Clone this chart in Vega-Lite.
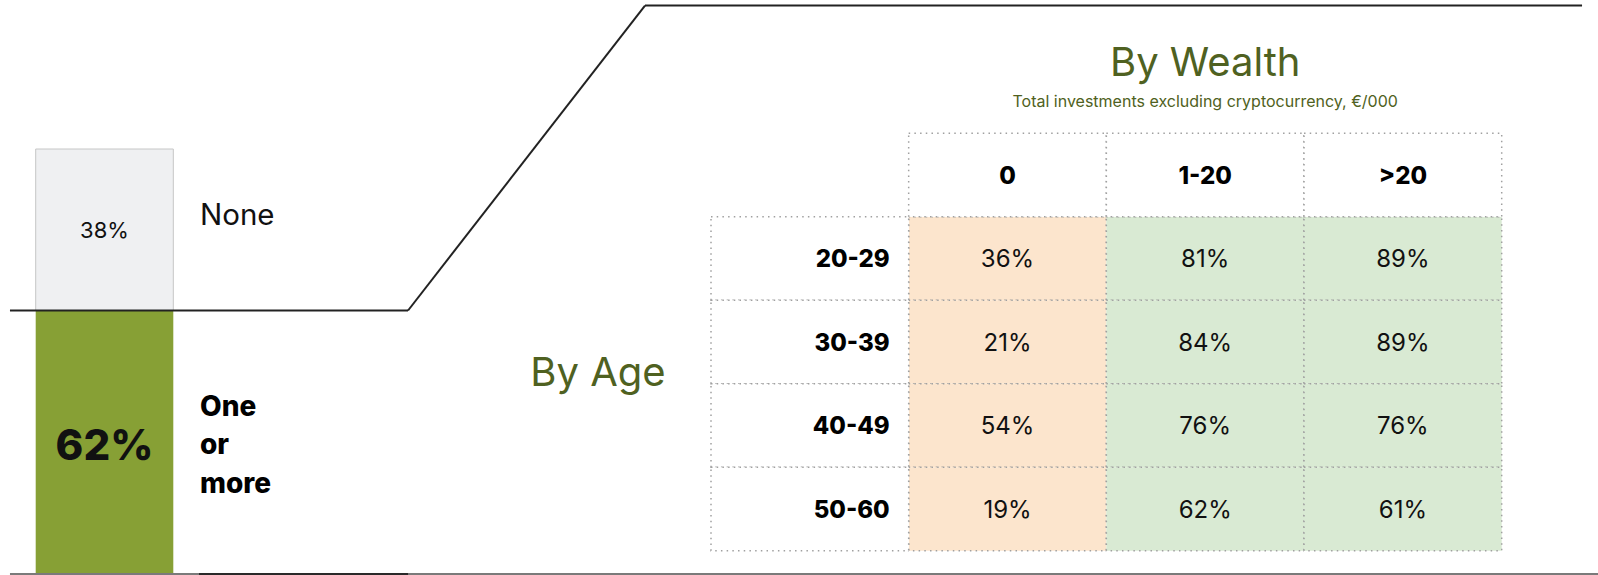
{
  "$schema": "https://vega.github.io/schema/vega-lite/v6.json",
  "width": 1598,
  "height": 575,
  "autosize": {"type": "none"},
  "padding": 0,
  "background": "white",
  "config": {
    "view": {"stroke": null},
    "font": "Inter",
    "axis": {"disable": true},
    "legend": {"disable": true}
  },
  "datasets": {
    "overall": [
      {"answer": "None", "share": 0.38},
      {"answer": "One or more", "share": 0.62}
    ],
    "grid": [
      {"age": "20-29", "wealth": "0", "share": 0.36},
      {"age": "20-29", "wealth": "1-20", "share": 0.81},
      {"age": "20-29", "wealth": ">20", "share": 0.89},
      {"age": "30-39", "wealth": "0", "share": 0.21},
      {"age": "30-39", "wealth": "1-20", "share": 0.84},
      {"age": "30-39", "wealth": ">20", "share": 0.89},
      {"age": "40-49", "wealth": "0", "share": 0.54},
      {"age": "40-49", "wealth": "1-20", "share": 0.76},
      {"age": "40-49", "wealth": ">20", "share": 0.76},
      {"age": "50-60", "wealth": "0", "share": 0.19},
      {"age": "50-60", "wealth": "1-20", "share": 0.62},
      {"age": "50-60", "wealth": ">20", "share": 0.61}
    ]
  },
  "layer": [
    {
      "data": {"name": "overall"},
      "transform": [
        {"stack": "share", "groupby": [], "sort": [{"field": "share", "order": "descending"}], "as": ["lo", "hi"]}
      ],
      "layer": [
        {
          "mark": {"type": "rect"},
          "encoding": {
            "x": {"datum": 0, "type": "quantitative", "scale": {"domain": [0, 1], "range": [35.7, 173.3], "nice": false, "zero": false}},
            "x2": {"datum": 1},
            "y": {"field": "lo", "type": "quantitative", "scale": {"domain": [0, 1], "range": [574, 149], "nice": false, "zero": false}},
            "y2": {"field": "hi"},
            "fill": {"field": "answer", "type": "nominal", "scale": {"domain": ["None", "One or more"], "range": ["#eff0f2", "#87a035"]}},
            "stroke": {"condition": {"test": "datum.answer === 'None'", "value": "#c6c6c6"}, "value": null}
          }
        },
        {
          "transform": [{"filter": "datum.answer === 'One or more'"}],
          "mark": {"type": "rule", "color": "#7a7a7a", "strokeWidth": 2},
          "encoding": {
            "x": {"datum": -0.187, "type": "quantitative", "scale": {"domain": [0, 1], "range": [35.7, 173.3], "nice": false, "zero": false}},
            "x2": {"datum": 11.4},
            "y": {"datum": 0, "type": "quantitative", "scale": {"domain": [0, 1], "range": [574, 149], "nice": false, "zero": false}}
          }
        },
        {
          "transform": [{"filter": "datum.answer === 'One or more'"}],
          "mark": {"type": "rule", "color": "#2a2a2a", "strokeWidth": 2},
          "encoding": {
            "x": {"datum": 1.187, "type": "quantitative", "scale": {"domain": [0, 1], "range": [35.7, 173.3], "nice": false, "zero": false}},
            "x2": {"datum": 2.706},
            "y": {"datum": 0, "type": "quantitative", "scale": {"domain": [0, 1], "range": [574, 149], "nice": false, "zero": false}}
          }
        },
        {
          "transform": [{"filter": "datum.answer === 'One or more'"}],
          "mark": {"type": "rule", "color": "#222222", "strokeWidth": 2},
          "encoding": {
            "x": {"datum": -0.187, "type": "quantitative", "scale": {"domain": [0, 1], "range": [35.7, 173.3], "nice": false, "zero": false}},
            "x2": {"datum": 2.706},
            "y": {"field": "hi", "type": "quantitative", "scale": {"domain": [0, 1], "range": [574, 149], "nice": false, "zero": false}}
          }
        },
        {
          "transform": [{"filter": "datum.answer === 'One or more'"}],
          "mark": {"type": "rule", "color": "#222222", "strokeWidth": 2},
          "encoding": {
            "x": {"datum": 2.706, "type": "quantitative", "scale": {"domain": [0, 1], "range": [35.7, 173.3], "nice": false, "zero": false}},
            "x2": {"datum": 4.428},
            "y": {"field": "hi", "type": "quantitative", "scale": {"domain": [0, 1], "range": [574, 149], "nice": false, "zero": false}},
            "y2": {"datum": 1.3376}
          }
        },
        {
          "transform": [{"filter": "datum.answer === 'One or more'"}],
          "mark": {"type": "rule", "color": "#222222", "strokeWidth": 2},
          "encoding": {
            "x": {"datum": 4.428, "type": "quantitative", "scale": {"domain": [0, 1], "range": [35.7, 173.3], "nice": false, "zero": false}},
            "x2": {"datum": 11.238},
            "y": {"datum": 1.3376, "type": "quantitative", "scale": {"domain": [0, 1], "range": [574, 149], "nice": false, "zero": false}}
          }
        },
        {
          "transform": [{"filter": "datum.answer === 'None'"}],
          "mark": {"type": "text", "fontSize": 22, "color": "#111111", "align": "center", "baseline": "alphabetic", "dy": 89},
          "encoding": {
            "x": {"datum": 0.5, "type": "quantitative", "scale": {"domain": [0, 1], "range": [35.7, 173.3], "nice": false, "zero": false}},
            "y": {"field": "hi", "type": "quantitative", "scale": {"domain": [0, 1], "range": [574, 149], "nice": false, "zero": false}},
            "text": {"field": "share", "type": "quantitative", "format": ".0%"}
          }
        },
        {
          "transform": [{"filter": "datum.answer === 'None'"}],
          "mark": {"type": "text", "fontSize": 29.5, "color": "#111111", "align": "left", "baseline": "alphabetic", "dx": 26.7, "dy": 76},
          "encoding": {
            "x": {"datum": 1, "type": "quantitative", "scale": {"domain": [0, 1], "range": [35.7, 173.3], "nice": false, "zero": false}},
            "y": {"field": "hi", "type": "quantitative", "scale": {"domain": [0, 1], "range": [574, 149], "nice": false, "zero": false}},
            "text": {"field": "answer", "type": "nominal"}
          }
        },
        {
          "transform": [{"filter": "datum.answer === 'One or more'"}],
          "mark": {"type": "text", "fontSize": 42, "fontWeight": 800, "color": "#111111", "align": "center", "baseline": "alphabetic", "dy": 149.5},
          "encoding": {
            "x": {"datum": 0.5, "type": "quantitative", "scale": {"domain": [0, 1], "range": [35.7, 173.3], "nice": false, "zero": false}},
            "y": {"field": "hi", "type": "quantitative", "scale": {"domain": [0, 1], "range": [574, 149], "nice": false, "zero": false}},
            "text": {"field": "share", "type": "quantitative", "format": ".0%"}
          }
        },
        {
          "transform": [{"filter": "datum.answer === 'One or more'"}],
          "mark": {"type": "text", "fontSize": 28, "fontWeight": 800, "color": "#000000", "align": "left", "baseline": "alphabetic", "dx": 26.7, "dy": 105.5, "lineBreak": " ", "lineHeight": 38.3},
          "encoding": {
            "x": {"datum": 1, "type": "quantitative", "scale": {"domain": [0, 1], "range": [35.7, 173.3], "nice": false, "zero": false}},
            "y": {"field": "hi", "type": "quantitative", "scale": {"domain": [0, 1], "range": [574, 149], "nice": false, "zero": false}},
            "text": {"field": "answer", "type": "nominal"}
          }
        }
      ]
    },
    {
      "layer": [
        {
          "data": {"name": "grid"},
          "mark": {"type": "rect", "stroke": "#a0a0a0", "strokeWidth": 1.5, "strokeDash": [1.5, 4.2]},
          "encoding": {
            "x": {"field": "wealth", "type": "nominal", "scale": {"type": "band", "domain": ["Age", "0", "1-20", ">20"], "range": [711, 1501.7], "paddingInner": 0, "paddingOuter": 0}},
            "y": {"field": "age", "type": "nominal", "scale": {"type": "band", "domain": ["Wealth", "20-29", "30-39", "40-49", "50-60"], "range": [133.3, 550.7], "paddingInner": 0, "paddingOuter": 0}},
            "fill": {"field": "wealth", "type": "nominal", "scale": {"domain": ["0", "1-20", ">20"], "range": ["#fce5cd", "#d9ead3", "#d9ead3"]}}
          }
        },
        {
          "data": {"name": "grid"},
          "transform": [{"aggregate": [{"op": "count", "as": "n"}], "groupby": ["wealth"]}],
          "mark": {"type": "rect", "fill": "white", "stroke": "#a0a0a0", "strokeWidth": 1.5, "strokeDash": [1.5, 4.2]},
          "encoding": {
            "x": {"field": "wealth", "type": "nominal", "scale": {"type": "band", "domain": ["Age", "0", "1-20", ">20"], "range": [711, 1501.7], "paddingInner": 0, "paddingOuter": 0}},
            "y": {"datum": "Wealth", "type": "nominal", "scale": {"type": "band", "domain": ["Wealth", "20-29", "30-39", "40-49", "50-60"], "range": [133.3, 550.7], "paddingInner": 0, "paddingOuter": 0}}
          }
        },
        {
          "data": {"name": "grid"},
          "transform": [{"aggregate": [{"op": "count", "as": "n"}], "groupby": ["age"]}],
          "mark": {"type": "rect", "fill": "white", "stroke": "#a0a0a0", "strokeWidth": 1.5, "strokeDash": [1.5, 4.2]},
          "encoding": {
            "x": {"datum": "Age", "type": "nominal", "scale": {"type": "band", "domain": ["Age", "0", "1-20", ">20"], "range": [711, 1501.7], "paddingInner": 0, "paddingOuter": 0}},
            "y": {"field": "age", "type": "nominal", "scale": {"type": "band", "domain": ["Wealth", "20-29", "30-39", "40-49", "50-60"], "range": [133.3, 550.7], "paddingInner": 0, "paddingOuter": 0}}
          }
        },
        {
          "data": {"name": "grid"},
          "mark": {"type": "text", "fontSize": 24, "color": "#111111", "align": "center", "baseline": "alphabetic", "dy": 8.7},
          "encoding": {
            "x": {"field": "wealth", "type": "nominal", "bandPosition": 0.5, "scale": {"type": "band", "domain": ["Age", "0", "1-20", ">20"], "range": [711, 1501.7], "paddingInner": 0, "paddingOuter": 0}},
            "y": {"field": "age", "type": "nominal", "bandPosition": 0.5, "scale": {"type": "band", "domain": ["Wealth", "20-29", "30-39", "40-49", "50-60"], "range": [133.3, 550.7], "paddingInner": 0, "paddingOuter": 0}},
            "text": {"field": "share", "type": "quantitative", "format": ".0%"}
          }
        },
        {
          "data": {"name": "grid"},
          "transform": [{"aggregate": [{"op": "count", "as": "n"}], "groupby": ["wealth"]}],
          "mark": {"type": "text", "fontSize": 24, "fontWeight": 800, "color": "#000000", "align": "center", "baseline": "alphabetic", "dy": 8.7},
          "encoding": {
            "x": {"field": "wealth", "type": "nominal", "bandPosition": 0.5, "scale": {"type": "band", "domain": ["Age", "0", "1-20", ">20"], "range": [711, 1501.7], "paddingInner": 0, "paddingOuter": 0}},
            "y": {"datum": "Wealth", "type": "nominal", "bandPosition": 0.5, "scale": {"type": "band", "domain": ["Wealth", "20-29", "30-39", "40-49", "50-60"], "range": [133.3, 550.7], "paddingInner": 0, "paddingOuter": 0}},
            "text": {"field": "wealth", "type": "nominal"}
          }
        },
        {
          "data": {"name": "grid"},
          "transform": [{"aggregate": [{"op": "count", "as": "n"}], "groupby": ["age"]}],
          "mark": {"type": "text", "fontSize": 24, "fontWeight": 800, "color": "#000000", "align": "right", "baseline": "alphabetic", "dx": -19, "dy": 8.7},
          "encoding": {
            "x": {"datum": "Age", "type": "nominal", "bandPosition": 1, "scale": {"type": "band", "domain": ["Age", "0", "1-20", ">20"], "range": [711, 1501.7], "paddingInner": 0, "paddingOuter": 0}},
            "y": {"field": "age", "type": "nominal", "bandPosition": 0.5, "scale": {"type": "band", "domain": ["Wealth", "20-29", "30-39", "40-49", "50-60"], "range": [133.3, 550.7], "paddingInner": 0, "paddingOuter": 0}},
            "text": {"field": "age", "type": "nominal"}
          }
        },
        {
          "data": {"values": [{"label": "By Wealth"}]},
          "mark": {"type": "text", "fontSize": 40, "color": "#4f6121", "align": "center", "baseline": "alphabetic", "dy": -57.3},
          "encoding": {
            "x": {"datum": "1-20", "type": "nominal", "bandPosition": 0.5, "scale": {"type": "band", "domain": ["Age", "0", "1-20", ">20"], "range": [711, 1501.7], "paddingInner": 0, "paddingOuter": 0}},
            "y": {"datum": "Wealth", "type": "nominal", "bandPosition": 0, "scale": {"type": "band", "domain": ["Wealth", "20-29", "30-39", "40-49", "50-60"], "range": [133.3, 550.7], "paddingInner": 0, "paddingOuter": 0}},
            "text": {"field": "label", "type": "nominal"}
          }
        },
        {
          "data": {"values": [{"label": "Total investments excluding cryptocurrency, €/000"}]},
          "mark": {"type": "text", "fontSize": 16, "color": "#4f6121", "align": "center", "baseline": "alphabetic", "dy": -26},
          "encoding": {
            "x": {"datum": "1-20", "type": "nominal", "bandPosition": 0.5, "scale": {"type": "band", "domain": ["Age", "0", "1-20", ">20"], "range": [711, 1501.7], "paddingInner": 0, "paddingOuter": 0}},
            "y": {"datum": "Wealth", "type": "nominal", "bandPosition": 0, "scale": {"type": "band", "domain": ["Wealth", "20-29", "30-39", "40-49", "50-60"], "range": [133.3, 550.7], "paddingInner": 0, "paddingOuter": 0}},
            "text": {"field": "label", "type": "nominal"}
          }
        },
        {
          "data": {"values": [{"label": "By Age"}]},
          "mark": {"type": "text", "fontSize": 40, "color": "#4f6121", "align": "center", "baseline": "alphabetic", "dx": -113, "dy": 2},
          "encoding": {
            "x": {"datum": "Age", "type": "nominal", "bandPosition": 0, "scale": {"type": "band", "domain": ["Age", "0", "1-20", ">20"], "range": [711, 1501.7], "paddingInner": 0, "paddingOuter": 0}},
            "y": {"datum": "40-49", "type": "nominal", "bandPosition": 0, "scale": {"type": "band", "domain": ["Wealth", "20-29", "30-39", "40-49", "50-60"], "range": [133.3, 550.7], "paddingInner": 0, "paddingOuter": 0}},
            "text": {"field": "label", "type": "nominal"}
          }
        }
      ]
    }
  ],
  "resolve": {"scale": {"x": "independent", "y": "independent", "fill": "independent", "color": "independent"}}
}
